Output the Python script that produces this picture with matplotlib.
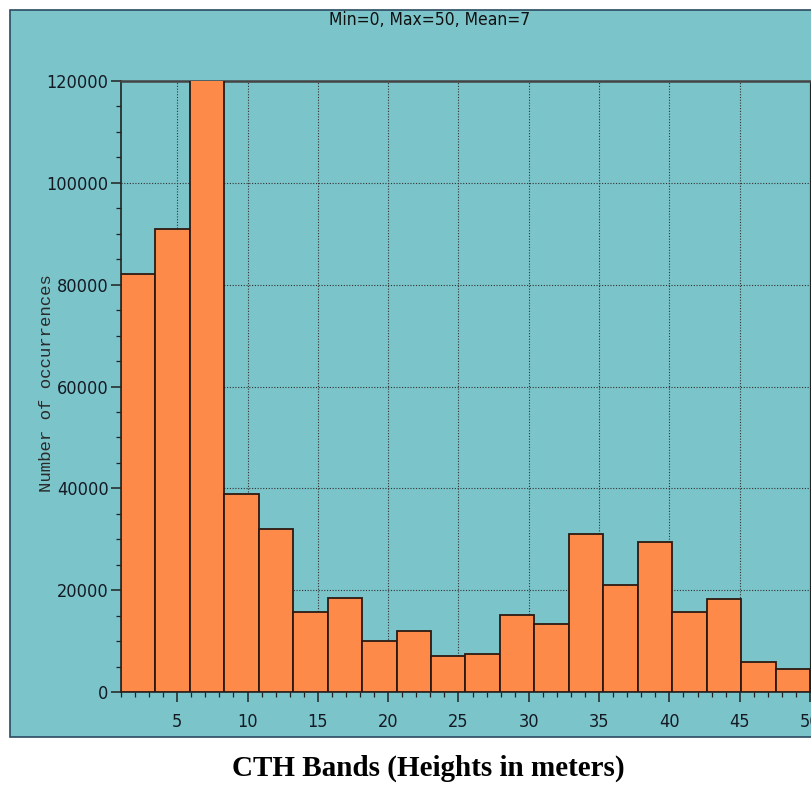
import matplotlib.pyplot as plt
from matplotlib.patches import Rectangle
from matplotlib.ticker import MultipleLocator

# Histogram of CTH bands: 20 bins from 1 to 50 m
bin_start = 1.0
bin_width = 2.45
counts = [82000, 91000, 120300, 38800, 32000, 15800, 18500, 10000, 12000, 7000,
          7500, 15200, 13300, 31000, 21000, 29500, 15800, 18300, 5800, 4500]
edges = [bin_start + i * bin_width for i in range(len(counts))]

x_ticks = [5, 10, 15, 20, 25, 30, 35, 40, 45, 50]
y_ticks = [0, 20000, 40000, 60000, 80000, 100000, 120000]

panel_color = "#7bc4ca"
bar_color = "#fd8a48"
narrow = dict(family=["DejaVu Sans"], stretch="condensed")

fig = plt.figure(figsize=(8.12, 7.87), dpi=100)
fig.patch.set_facecolor("white")

# Cyan panel behind the chart
fig.patches.append(Rectangle((10 / 812, 1 - 737 / 787), 1, (737 - 10) / 787,
                             transform=fig.transFigure, facecolor=panel_color,
                             edgecolor="#2a4a60", linewidth=1.2, zorder=-5))

ax = fig.add_axes([121 / 812, 1 - 692 / 787, (810 - 121) / 812, (692 - 81) / 787])
ax.set_facecolor(panel_color)

ax.bar(edges, counts, width=bin_width, align="edge", color=bar_color,
       edgecolor="#2b1a12", linewidth=1.3, zorder=3)

ax.set_xlim(1, 50)
ax.set_ylim(0, 120000)
ax.set_xticks(x_ticks)
ax.set_yticks(y_ticks)
ax.xaxis.set_minor_locator(MultipleLocator(1))
ax.yaxis.set_minor_locator(MultipleLocator(5000))
ax.tick_params(axis="both", which="major", length=7, width=1.1, color="#222",
               labelsize=13, labelcolor="#141a24")
ax.tick_params(axis="x", which="major", pad=8)
ax.tick_params(axis="y", which="major", pad=2)
ax.tick_params(axis="both", which="minor", length=3.5, width=0.9, color="#222")
for lab in ax.get_xticklabels() + ax.get_yticklabels():
    lab.set_family(narrow["family"])
    lab.set_stretch(narrow["stretch"])

ax.grid(True, which="major", linestyle=(0, (1, 1.5)), color="#333", linewidth=0.8, zorder=1)
ax.set_axisbelow(True)

for side in ["left", "bottom"]:
    ax.spines[side].set_color("#222")
    ax.spines[side].set_linewidth(1.2)
ax.spines["top"].set_color("#444")
ax.spines["top"].set_linewidth(1.8)
ax.spines["right"].set_color("#222")

fig.text(47 / 812, 1 - 383 / 787, "Number of occurrences",
         family=["Liberation Mono", "DejaVu Sans Mono"], fontsize=12.5,
         color="#2a2a2a", rotation=90, ha="center", va="center")

fig.text(430 / 812, 1 - 20 / 787, "Min=0, Max=50, Mean=7", fontsize=12.5,
         ha="center", va="center", color="#111", **narrow)

fig.text(428 / 812, 1 - 768 / 787, "CTH Bands (Heights in meters)",
         family=["Liberation Serif", "DejaVu Serif"], fontweight="bold",
         fontsize=21, ha="center", va="center", color="black")

fig.savefig("out.png", dpi=100)
plt.close(fig)
